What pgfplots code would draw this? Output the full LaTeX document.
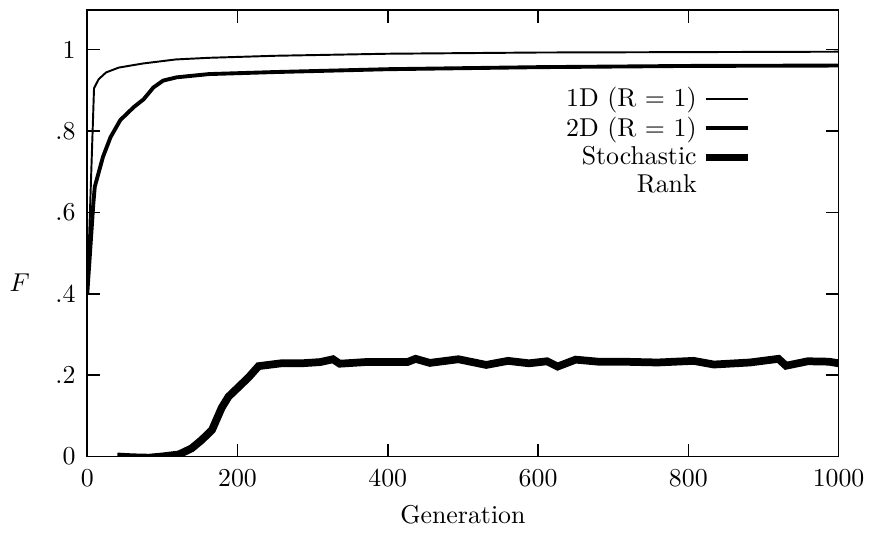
\documentclass[border=0pt]{standalone}
\usepackage{pgfplots}
\pgfplotsset{compat=1.18}
\begin{document}
\begin{tikzpicture}
\begin{axis}[
  scale only axis,
  width=291pt, height=173pt,
  xmin=0, xmax=1000, ymin=0, ymax=1.098,
  xtick={0,200,400,600,800,1000},
  xticklabels={0,200,400,600,800,1000},
  ytick={0,0.2,0.4,0.6,0.8,1},
  yticklabels={0,.2,.4,.6,.8,1},
  tick align=inside,
  major tick length=5pt,
  axis line style={line width=0.7pt},
  tick style={line width=0.6pt, black},
  xticklabel style={yshift=-1.5pt},
  yticklabel style={xshift=-1pt},
  xlabel={Generation},
  xlabel style={yshift=0pt},
  ylabel={$F$},
  ylabel style={rotate=-90, at={(axis description cs:-0.09,0.39)}, anchor=center},
  legend plot pos=right,
  legend cell align=right,
  legend style={draw=none, fill=none, at={(axis cs:895,0.935)}, anchor=north east,
    row sep=-1.5pt, font=\normalsize},
  legend image code/.code={\draw[#1] (0.15cm,0cm) -- (0.72cm,0cm);},
]
\addplot[black, line width=0.75pt] coordinates {
(0,0.40) (9,0.905) (15,0.927) (25,0.944) (42,0.956) (74,0.966) (118,0.976)
(162,0.980) (250,0.985) (400,0.990) (600,0.993) (800,0.994) (1000,0.995)
};
\addlegendentry{1D (R = 1)}
\addplot[black, line width=1.5pt] coordinates {
(0,0.40) (8,0.62) (10,0.663) (21,0.737) (31,0.785) (44,0.827) (62,0.859)
(75,0.878) (88,0.907) (101,0.924) (119,0.932) (162,0.940) (250,0.945)
(400,0.952) (600,0.957) (800,0.960) (1000,0.961)
};
\addlegendentry{2D (R = 1)}
\addplot[black, line width=3pt] coordinates {
(40,0.0) (60,-0.002) (82,-0.003) (100,0.0) (122,0.005) (139,0.02) (152,0.04)
(166,0.065) (179,0.12) (188,0.147) (201,0.17) (215,0.195) (228,0.222)
(245,0.226) (258,0.229) (285,0.229) (310,0.232) (327,0.239) (336,0.228)
(370,0.232) (400,0.232) (426,0.232) (437,0.240) (456,0.230) (494,0.239)
(531,0.225) (560,0.235) (588,0.229) (612,0.234) (626,0.221) (650,0.238)
(680,0.233) (711,0.233) (759,0.231) (807,0.235) (834,0.226) (882,0.231)
(920,0.240) (930,0.223) (959,0.234) (987,0.233) (1000,0.229)
};
\addlegendentry{Stochastic}
\addlegendimage{draw=white, line width=0.1pt}
\addlegendentry{Rank}
\end{axis}
\path (current axis.south west) ++(-33.8pt,-28.8pt) coordinate (bbA);
\path (current axis.north east) ++(10.8pt,3.8pt) coordinate (bbB);
\end{tikzpicture}
\end{document}
